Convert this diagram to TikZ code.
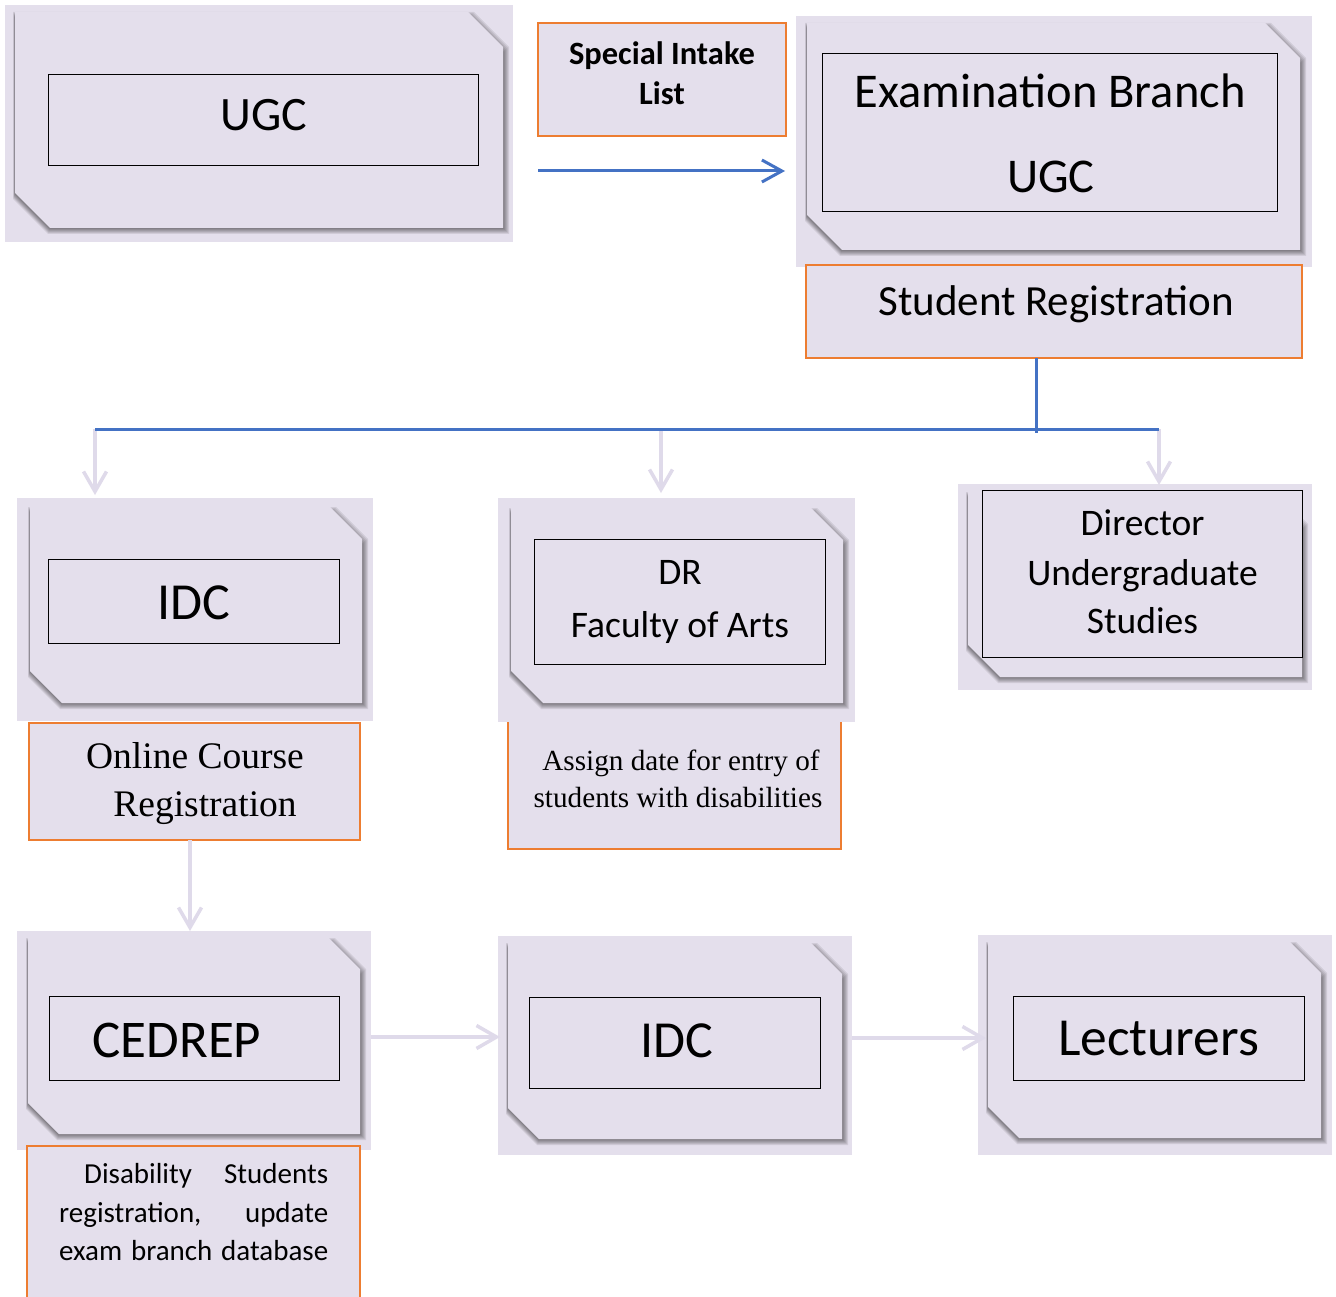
\documentclass[tikz,border=0pt]{standalone}
\usepackage{fontspec}
\setmainfont{Carlito}
\newfontfamily\serifx{Liberation Serif}
\usetikzlibrary{arrows.meta}
\definecolor{lav}{HTML}{E4DFEC}
\definecolor{lavline}{HTML}{DFDAEA}
\definecolor{orng}{HTML}{ED7D31}
\definecolor{blu}{HTML}{4472C4}
\newcommand\fsz[1]{\fontsize{#1}{#1}\selectfont}
\newcommand\snipfill[6]{\fill[#6] (#1,#2) -- ({#3-#5},#2) -- (#3,{#2+#5}) -- (#3,#4) -- ({#1+#5},#4) -- (#1,{#4-#5}) -- cycle;}
\newcommand\snipshape[5]{%
  \foreach \i in {6,5,4,3,2,1}{\snipfill{#1-0.3*\i}{#2+6-\i}{#3+\i}{#4+\i}{#5}{black,fill opacity=0.085}}%
  \snipfill{#1}{#2}{#3}{#4}{#5}{lav}}
\begin{document}
\begin{tikzpicture}[x=1pt,y=-1pt,
  bgbox/.style={fill=lav, draw=none, inner sep=0pt, outer sep=0pt},
  innerbox/.style={draw=black, line width=0.9pt, inner sep=0pt, outer sep=0pt},
  obox/.style={draw=orng, line width=2.4pt, fill=lav, inner sep=0pt, outer sep=0pt},
  lbl/.style={anchor=base, inner sep=0pt, text=black},
  flow/.style={draw=lavline, line width=3.5pt, -{Straight Barb[length=20pt,width=23pt,line width=3.5pt]}},
  blueline/.style={draw=blu, line width=3pt},
  bluearr/.style={draw=blu, line width=3pt, -{Straight Barb[length=20pt,width=22pt,line width=3pt]}},
]
\useasboundingbox (0,0) rectangle (1336,1297);
\fill[white] (0,0) rectangle (1336,1297);

% orange box partly under the DR group
\node[obox, minimum width=333pt, minimum height=131pt] (assign) at (674.5,783.5) {};

% UGC group
\node[bgbox, minimum width=508pt, minimum height=237pt] (ugcbg) at (259,123.5) {};
\snipshape{15}{12}{503}{228}{35}
\node[innerbox, minimum width=430pt, minimum height=91pt] (ugcin) at (263,119.5) {};
\node[lbl] (ugctxt) at (264,131) {\fsz{48}UGC};

% Special intake list
\node[obox, minimum width=248pt, minimum height=113pt] (special) at (662,79.5) {};
\node[lbl, font={\bfseries\fsz{32.5}}] (sp1) at (662,65) {Special Intake};
\node[lbl, font={\bfseries\fsz{32.5}}] (sp2) at (662,105) {List};

% Examination branch group
\node[bgbox, minimum width=516pt, minimum height=251pt] (exambg) at (1054,141.5) {};
\snipshape{807}{23}{1300}{250}{35}
\node[innerbox, minimum width=455pt, minimum height=158pt] (examin) at (1049.5,132) {};
\node[lbl] (ex1) at (1050,108) {\fsz{48.5}Examination Branch};
\node[lbl] (ex2) at (1051,193) {\fsz{48.5}UGC};

% Student registration
\node[obox, minimum width=496pt, minimum height=93pt] (studreg) at (1054,311.5) {};
\node[lbl] (sr) at (1056,316) {\fsz{43}Student Registration};

% IDC group (left)
\node[bgbox, minimum width=356pt, minimum height=223pt] (idcbg) at (195,609.5) {};
\snipshape{30}{507}{362}{703}{32}
\node[innerbox, minimum width=291pt, minimum height=84pt] (idcin) at (193.5,601) {};
\node[lbl] (idctxt) at (194,619) {\fsz{52}IDC};

% Online course registration
\node[obox, minimum width=331pt, minimum height=117pt] (online) at (194.5,781.5) {};
\node[lbl, font={\serifx\fsz{37.5}}] (on1) at (195,768) {Online Course};
\node[lbl, font={\serifx\fsz{37.5}}] (on2) at (205,816) {Registration};

% DR group
\node[bgbox, minimum width=357pt, minimum height=224pt] (drbg) at (676.5,610) {};
\snipshape{511}{508}{843}{703}{32}
\node[innerbox, minimum width=291pt, minimum height=125pt] (drin) at (679.5,601.5) {};
\node[lbl] (dr1) at (680,584) {\fsz{37.5}DR};
\node[lbl] (dr2) at (680,637) {\fsz{37.5}Faculty of Arts};
\node[lbl, font={\serifx\fsz{29.2}}] (as1) at (681,770) {Assign date for entry of};
\node[lbl, font={\serifx\fsz{29.2}}] (as2) at (678,807) {students with disabilities};

% Director group
\node[bgbox, minimum width=354pt, minimum height=206pt] (dirbg) at (1135,587) {};
\snipshape{968}{492}{1302}{677}{32}
\node[innerbox, fill=lav, minimum width=320pt, minimum height=167pt] (dirin) at (1142,573.5) {};
\node[lbl] (di1) at (1142.5,535) {\fsz{37.5}Director};
\node[lbl] (di2) at (1142.5,585) {\fsz{37.5}Undergraduate};
\node[lbl] (di3) at (1142.5,633) {\fsz{37.5}Studies};

% CEDREP group
\node[bgbox, minimum width=354pt, minimum height=219pt] (cedbg) at (194,1040.5) {};
\snipshape{28}{938}{360}{1134}{31}
\node[innerbox, minimum width=290pt, minimum height=84pt] (cedin) at (194,1038) {};
\node[lbl] (cedtxt) at (177,1057) {\fsz{53}CEDREP};

% Disability box
\node[obox, minimum width=333pt, minimum height=159pt] (disab) at (193.5,1225.5) {};
\node[lbl, anchor=base west] (ds1) at (59,1183) {\fsz{29}\hbox to 269pt{\hspace*{25pt}Disability\hfill Students}};
\node[lbl, anchor=base west] (ds2) at (59,1222) {\fsz{29}\hbox to 269pt{registration,\hfill update}};
\node[lbl, anchor=base west] (ds3) at (59,1260) {\fsz{29}\hbox to 269pt{exam branch database}};

% IDC group (middle)
\node[bgbox, minimum width=354pt, minimum height=219pt] (idcbbg) at (675,1045.5) {};
\snipshape{508}{943}{842}{1139}{31}
\node[innerbox, minimum width=291pt, minimum height=91pt] (idcbin) at (674.5,1042.5) {};
\node[lbl] (idcbtxt) at (677,1057) {\fsz{52}IDC};

% Lecturers group
\node[bgbox, minimum width=354pt, minimum height=220pt] (lecbg) at (1155,1045) {};
\snipshape{988}{942}{1321}{1138}{31}
\node[innerbox, minimum width=291pt, minimum height=84pt] (lecin) at (1158.5,1038) {};
\node[lbl] (lectxt) at (1158.5,1055) {\fsz{53.5}Lecturers};

% helper coordinates
\coordinate (ya) at (0,171);
\coordinate (yb) at (0,429);
\coordinate (yc) at (0,1037);
\coordinate (yd) at (0,1038);
\coordinate (xa) at (95,0);
\coordinate (xb) at (661,0);
\coordinate (xc) at (1159,0);
\coordinate (xd) at (1036,0);
\coordinate (xe) at (190,0);
\coordinate (t0) at (1036,433);
\coordinate (sb) at (785,171);
\coordinate (le) at (986,1038);

% connectors
\draw[bluearr] (special.west |- ya) -- (sb);
\draw[flow] (xa |- yb) -- ([yshift=3pt]idcbg.north -| xa);
\draw[flow] (xb |- yb) -- ([yshift=5pt]drbg.north -| xb);
\draw[flow] (xc |- yb) -- ([yshift=-1pt]dirbg.north -| xc);
\draw[blueline] (studreg.south -| xd) -- (t0);
\draw[blueline] (xa |- yb) -- (xc |- yb);
\draw[flow] (online.south -| xe) -- (cedbg.north -| xe);
\draw[flow] (cedbg.east |- yc) -- ([xshift=2pt]idcbbg.west |- yc);
\draw[flow] (idcbbg.east |- yd) -- (le);
\end{tikzpicture}
\end{document}
